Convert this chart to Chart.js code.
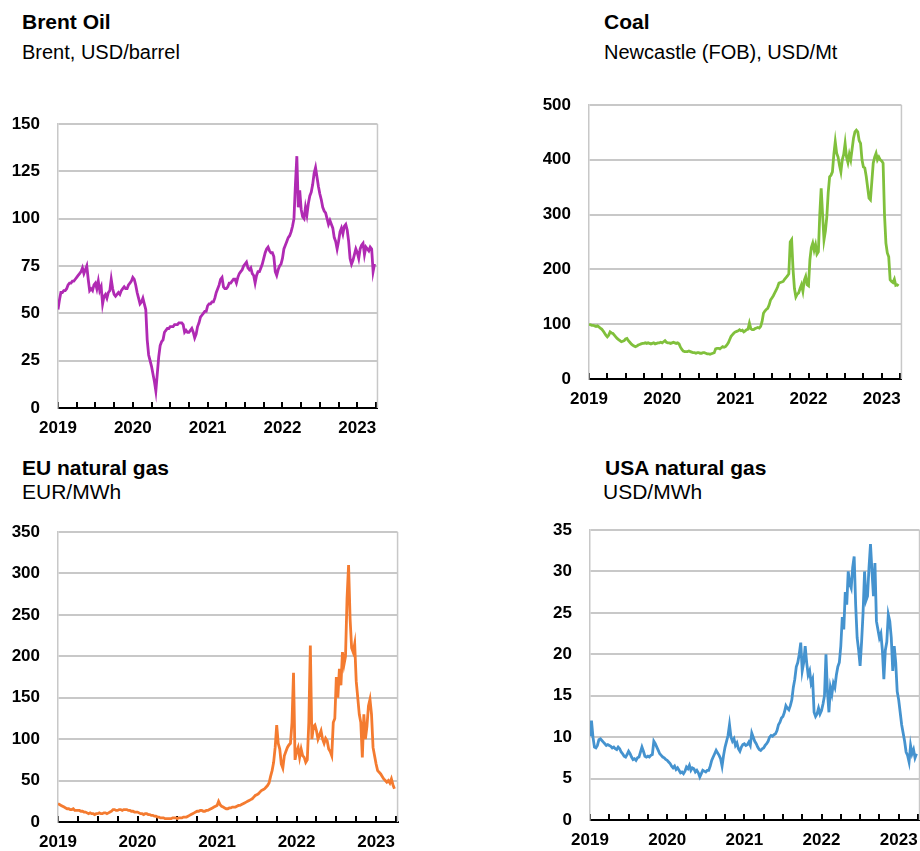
<!DOCTYPE html>
<html>
<head>
<meta charset="utf-8">
<script src="https://cdn.jsdelivr.net/npm/chart.js@4.4.1/dist/chart.umd.min.js"></script>
<style>
  html, body { margin: 0; padding: 0; background: #fff; }
  body { width: 920px; height: 851px; overflow: hidden; position: relative; font-family: 'Liberation Sans', Arial, sans-serif; color: #000; }
  .title { position: absolute; font-weight: bold; font-size: 21px; line-height: 1; white-space: nowrap; }
  .sub { position: absolute; font-size: 20px; line-height: 1; white-space: nowrap; }
  .box { position: absolute; }
</style>
</head>
<body>
<div class="title" style="left:22px;top:11px">Brent Oil</div>
<div class="sub" style="left:22px;top:42px">Brent, USD/barrel</div>
<div class="title" style="left:604px;top:11px">Coal</div>
<div class="sub" style="left:604px;top:42px">Newcastle (FOB), USD/Mt</div>
<div class="title" style="left:22px;top:457px">EU natural gas</div>
<div class="sub" style="left:22px;top:481px;font-size:21px">EUR/MWh</div>
<div class="title" style="left:605px;top:457px">USA natural gas</div>
<div class="sub" style="left:603px;top:481px;font-size:21px">USD/MWh</div>

<div class="box" style="left:0;top:110px;width:392px;height:332px"><canvas id="brentChart"></canvas></div>
<div class="box" style="left:531px;top:91px;width:385px;height:322px"><canvas id="coalChart"></canvas></div>
<div class="box" style="left:0;top:518px;width:412px;height:338px"><canvas id="euGasChart"></canvas></div>
<div class="box" style="left:532px;top:516px;width:402px;height:338px"><canvas id="usGasChart"></canvas></div>

<script>
// Weekly observations, first week of January 2019 to end of March 2023
const startYear = 2019;
const weeksPerYear = 52;
const yearTicks = [2019, 2020, 2021, 2022, 2023];
const xMax = 2023.27;

// Brent, USD/barrel
const brentData = [
  52, 57, 61, 61, 62, 62, 63, 65, 66, 66, 67, 67, 68,
  69, 70, 71, 72, 74, 71, 73, 75, 68, 62, 63, 62, 65,
  66, 63, 67, 62, 64, 55, 59, 60, 58, 61, 62, 68, 63,
  60, 59, 60, 61, 60, 62, 63, 64, 63, 63, 65, 66, 67,
  69, 68, 65, 61, 58, 55, 56, 58, 55, 52, 36, 28, 25,
  22, 18, 14, 9, 18, 27, 33, 35, 36, 40, 41, 42, 42,
  43, 43, 43, 44, 44, 44, 45, 45, 45, 44, 40, 41, 40,
  40, 41, 42, 40, 37, 39, 43, 45, 48, 49, 50, 51, 51,
  54, 55, 55, 56, 56, 58, 61, 63, 65, 68, 69, 64, 63,
  63, 64, 66, 66, 67, 68, 68, 66, 69, 71, 72, 73, 75,
  76, 77, 74, 73, 74, 71, 70, 66, 70, 72, 72, 74, 76,
  79, 82, 84, 85, 83, 82, 82, 80, 72, 70, 73, 75, 76,
  79, 84, 86, 88, 90, 91, 93, 96, 100, 118, 133, 106, 115,
  105, 101, 100, 106, 102, 108, 112, 114, 118, 124, 127, 122, 117,
  113, 110, 106, 104, 103, 100, 97, 99, 97, 95, 90, 88, 84,
  88, 93, 95, 92, 96, 97, 94, 88, 79, 76, 78, 81, 84,
  82, 79, 84, 86, 87, 81, 85, 84, 83, 85, 84, 72, 76
];

// Newcastle coal (FOB), USD/Mt
const coalData = [
  100, 99, 98, 98, 97, 96, 97, 95, 93, 91, 88, 84, 80,
  77, 80, 86, 84, 83, 80, 77, 74, 72, 70, 68, 69, 70,
  73, 74, 70, 67, 64, 62, 60, 59, 60, 62, 63, 64, 65,
  65, 66, 65, 66, 65, 64, 65, 66, 64, 65, 66, 66, 67,
  66, 68, 70, 67, 66, 66, 65, 66, 67, 66, 65, 66, 64,
  58, 54, 51, 50, 50, 50, 51, 50, 49, 48, 48, 47, 48,
  48, 47, 47, 48, 48, 47, 46, 46, 45, 46, 47, 48, 55,
  56, 56, 55, 57, 59, 58, 59, 62, 66, 72, 78, 81, 84,
  86, 87, 88, 90, 88, 89, 86, 88, 90, 91, 102, 92, 90,
  90, 92, 93, 94, 93, 96, 105, 120, 124, 127, 129, 135, 144,
  148, 152, 157, 162, 168, 175, 176, 177, 178, 182, 185, 188, 192,
  250, 254, 200, 165, 150, 155, 157, 165, 172, 160, 180, 187, 172,
  170, 218, 240, 248, 235, 245, 228, 232, 300, 348, 300, 254, 270,
  296, 340, 369, 372, 378, 410, 433, 412, 405, 390, 378, 400, 410,
  430, 405, 395, 410, 400, 420, 440, 451, 454, 451, 435, 430, 400,
  387, 385, 370, 350, 330, 327, 360, 394, 405, 412, 400, 405, 400,
  398, 394, 300, 248, 230, 223, 181, 178, 176, 182, 171, 172, 170
];

// EU natural gas (TTF), EUR/MWh
const euGasData = [
  22, 21, 20, 19, 18, 17, 16, 16, 15, 15, 16, 14, 14,
  14, 14, 13, 13, 12, 12, 11, 10, 11, 10, 10, 9, 10,
  10, 11, 10, 10, 11, 11, 10, 11, 12, 13, 15, 15, 14,
  14, 15, 15, 14, 15, 15, 15, 14, 14, 13, 13, 12, 12,
  12, 11, 10, 10, 9, 10, 10, 9, 9, 8, 8, 7, 7,
  6, 6, 5, 5, 5, 4, 4, 4, 4, 4, 5, 5, 5,
  4, 5, 5, 5, 6, 6, 6, 7, 8, 9, 10, 11, 12,
  13, 13, 14, 14, 13, 13, 14, 14, 15, 16, 17, 18, 19,
  20, 25, 21, 19, 18, 17, 16, 16, 17, 17, 18, 18, 18,
  19, 20, 20, 21, 22, 23, 24, 25, 26, 27, 28, 30, 32,
  33, 34, 36, 38, 39, 40, 42, 44, 47, 55, 62, 72, 90,
  117, 95, 88, 70, 65, 80, 85, 90, 93, 95, 120, 180, 75,
  85, 90, 78, 88, 80, 78, 72, 75, 120, 213, 100, 115, 117,
  110, 100, 105, 110, 100, 95, 101, 98, 88, 85, 80, 120, 125,
  175, 150, 185, 165, 205, 190, 200, 270, 310, 245, 210, 205, 215,
  170, 150, 130, 120, 78, 130, 100, 115, 140, 148, 130, 90, 80,
  70, 62, 60, 58, 55, 52, 50, 48, 50, 47, 52, 45, 40
];

// USA natural gas (Henry Hub), USD/MWh
const usGasData = [
  10.1, 12.0, 10.0, 8.8, 8.7, 9.0, 9.7, 9.8, 9.6, 9.4, 9.2, 9.0, 9.1,
  9.0, 8.9, 8.7, 8.8, 8.6, 8.5, 8.8, 8.6, 8.2, 8.0, 7.7, 7.6, 7.9,
  8.3, 8.0, 7.6, 7.3, 7.4, 7.2, 7.5, 7.6, 8.2, 8.8, 8.3, 7.7, 7.6,
  7.7, 7.6, 7.8, 7.9, 9.5, 9.2, 8.8, 8.4, 8.0, 7.8, 7.6, 7.5, 7.3,
  7.2, 7.0, 6.8, 6.5, 6.3, 6.5, 6.1, 6.3, 6.0, 5.7, 5.8, 5.6, 5.9,
  6.4, 6.2, 6.6, 6.0, 6.3, 6.2, 5.8, 6.0, 5.7, 5.2, 5.6, 6.0, 5.9,
  5.8, 6.0, 6.0, 6.5, 7.2, 7.6, 8.0, 8.4, 8.1, 7.8, 7.4, 6.5, 7.8,
  8.8, 9.5, 10.2, 11.5, 10.0, 9.5, 9.8, 9.0, 9.3, 8.6, 8.3, 8.8, 9.1,
  9.2, 9.0, 9.1, 9.4, 9.0, 10.5, 10.0, 9.5, 9.2, 8.8, 8.5, 8.4, 8.6,
  8.7, 9.0, 9.2, 9.5, 10.0, 10.2, 10.1, 10.3, 10.4, 10.8, 11.5, 11.8, 12.3,
  12.5, 13.0, 13.8, 13.5, 13.3, 13.8, 14.5, 16.0, 17.0, 18.5, 19.0, 20.0, 21.4,
  18.0, 19.0, 21.0, 19.0, 17.5, 18.0, 16.5, 17.0, 13.0, 12.5, 12.8, 13.5, 12.8,
  13.2, 14.0, 15.0, 20.0, 15.5, 13.0, 16.0, 15.2, 16.5, 16.0, 17.5, 18.5, 19.0,
  21.0, 24.5, 23.0, 27.5, 26.0, 30.0, 28.5, 28.0, 30.5, 31.8, 26.0, 22.0, 20.5,
  18.6, 21.5, 25.0, 30.0, 26.5, 27.0, 30.5, 33.3, 30.0, 27.0, 31.0, 24.0, 23.0,
  22.0, 22.5, 20.5, 17.0, 20.5, 21.5, 24.8, 24.0, 22.0, 18.0, 21.0, 19.0, 15.5,
  14.5, 13.0, 11.5, 10.5, 9.5, 8.2, 7.8, 7.0, 9.0, 8.0, 8.5, 7.5, 8.0
];

const tickFont = { family: "'Liberation Sans', Arial, sans-serif", size: 17, weight: 'bold' };
const gridGrey = '#c8c8c8';

function toPoints(values) {
  return values.map((v, i) => ({ x: startYear + i / weeksPerYear, y: v }));
}

// light grey line on the right edge of the plot area
const rightFrame = {
  id: 'rightFrame',
  beforeDatasetsDraw(chart) {
    const { ctx, chartArea } = chart;
    ctx.save();
    ctx.strokeStyle = gridGrey;
    ctx.lineWidth = 1.5;
    ctx.beginPath();
    ctx.moveTo(chartArea.right, chartArea.top);
    ctx.lineTo(chartArea.right, chartArea.bottom);
    ctx.stroke();
    ctx.restore();
  }
};

function makeChart(id, values, color, yMax, yStep) {
  return new Chart(document.getElementById(id), {
    type: 'line',
    data: {
      datasets: [{
        data: toPoints(values),
        borderColor: color,
        borderWidth: 2.8,
        pointRadius: 0,
        tension: 0,
        fill: false
      }]
    },
    options: {
      responsive: true,
      maintainAspectRatio: false,
      animation: false,
      layout: { padding: { top: 14, right: 4, left: 0, bottom: 0 } },
      plugins: { legend: { display: false }, tooltip: { enabled: false } },
      scales: {
        x: {
          type: 'linear',
          min: startYear,
          max: xMax,
          afterFit: scale => { scale.height = 34; },
          border: { color: '#000', width: 2 },
          grid: { drawOnChartArea: false, color: '#000', lineWidth: 2, tickLength: -6 },
          ticks: {
            stepSize: 0.25,
            autoSkip: false,
            includeBounds: false,
            maxRotation: 0,
            padding: 16,
            color: '#000',
            font: tickFont,
            callback: v => {
              const yr = Math.round(v);
              return Math.abs(v - yr) < 1e-6 && yearTicks.includes(yr) ? String(yr) : '';
            }
          }
        },
        y: {
          min: 0,
          max: yMax,
          afterFit: scale => { scale.width = 58; },
          border: { color: gridGrey, width: 1.5 },
          grid: {
            color: ctx => ctx.tick.value === 0 ? 'rgba(0,0,0,0)' : gridGrey,
            lineWidth: 2,
            drawTicks: true,
            tickLength: 18,
            tickColor: 'rgba(0,0,0,0)'
          },
          ticks: { stepSize: yStep, padding: 0, color: '#000', font: tickFont }
        }
      }
    },
    plugins: [rightFrame]
  });
}

makeChart('brentChart', brentData, '#b02ab3', 150, 25);
makeChart('coalChart', coalData, '#80c03c', 500, 100);
makeChart('euGasChart', euGasData, '#f47b30', 350, 50);
makeChart('usGasChart', usGasData, '#4593cf', 35, 5);
</script>
</body>
</html>
